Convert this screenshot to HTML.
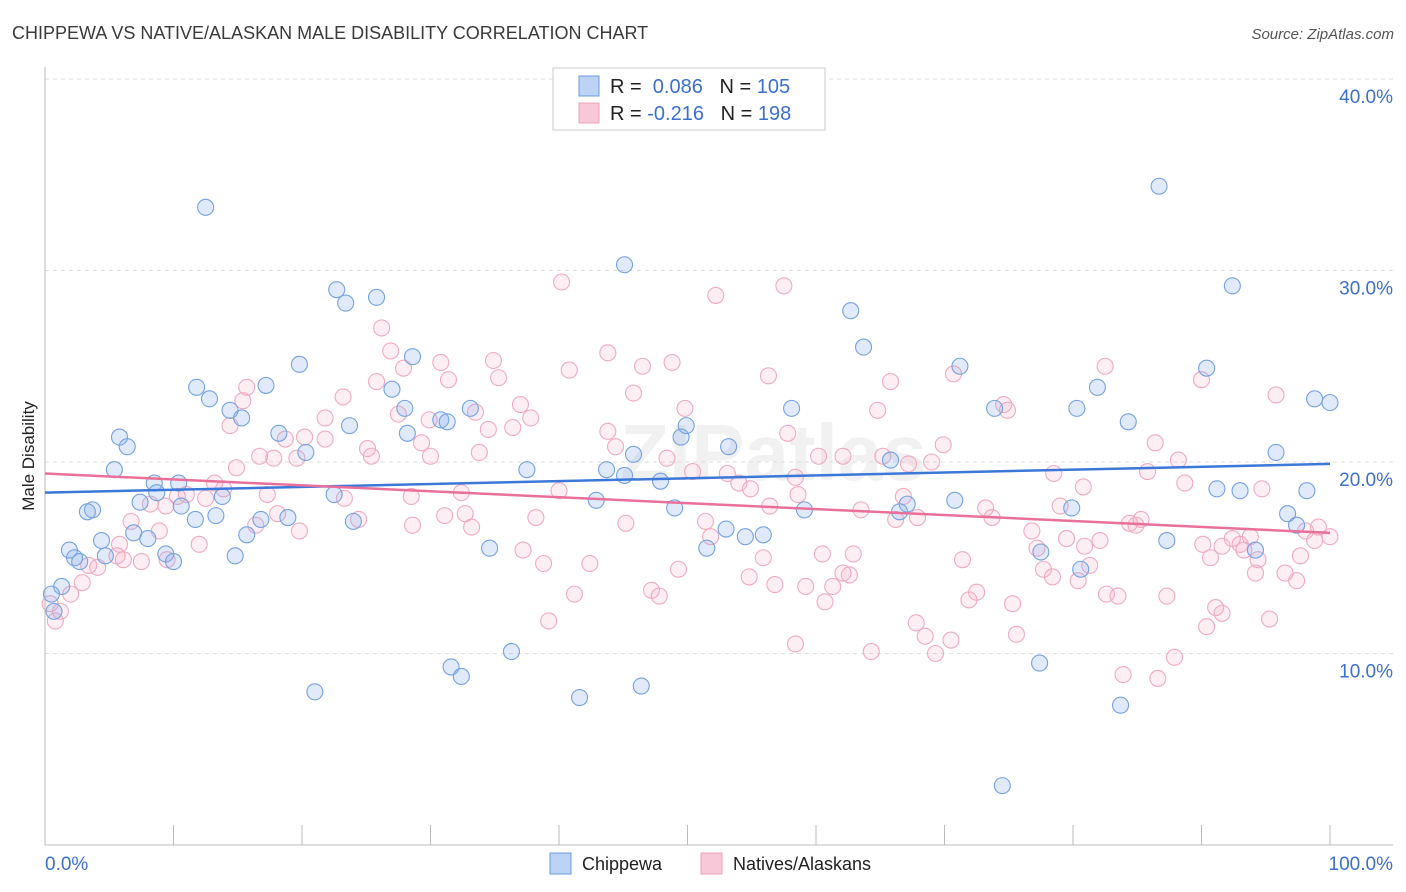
<!DOCTYPE html>
<html><head><meta charset="utf-8"><style>
body{margin:0;background:#fff;font-family:"Liberation Sans",sans-serif;}
svg{display:block}
</style></head><body>
<svg id="chart" width="1406" height="892">
<text x="12" y="39" font-size="18" fill="#3a3a3a">CHIPPEWA VS NATIVE/ALASKAN MALE DISABILITY CORRELATION CHART</text>
<text x="1394" y="39" font-size="15" fill="#555" font-style="italic" text-anchor="end">Source: ZipAtlas.com</text>
<text x="34" y="456" font-size="17" fill="#222" text-anchor="middle" transform="rotate(-90 34 456)">Male Disability</text>
<text x="620" y="480" font-size="80" fill="#000" opacity="0.05" font-weight="bold">ZIPatlas</text>
<g id="grid"></g><g id="axes"></g><g id="pts"></g><g id="trends"></g>
<g>
<rect x="553" y="68" width="272" height="62" fill="#fff" stroke="#ccc"/>
<rect x="579" y="76" width="20" height="20" fill="#bcd3f5" stroke="#6a9be0"/>
<text x="610" y="93" font-size="20" fill="#222">R = <tspan fill="#3b6fd0">&#160;0.086</tspan>&#160;&#160;&#160;N = <tspan fill="#3b6fd0">105</tspan></text>
<rect x="579" y="103" width="20" height="20" fill="#f8c8d8" stroke="#eea0b8"/>
<text x="610" y="120" font-size="20" fill="#222">R = <tspan fill="#3b6fd0">-0.216</tspan>&#160;&#160;&#160;N = <tspan fill="#3b6fd0">198</tspan></text>
</g>
<g>
<rect x="550" y="853" width="21" height="21" fill="#bcd3f5" stroke="#6a9be0"/>
<text x="582" y="870" font-size="18" fill="#222">Chippewa</text>
<rect x="701" y="853" width="21" height="21" fill="#f8c8d8" stroke="#eea0b8"/>
<text x="733" y="870" font-size="18" fill="#222">Natives/Alaskans</text>
</g>
</svg>
<script>
const yTicks=[10,20,30,40];
const yTickLabels=["10.0%","20.0%","30.0%","40.0%"];
const xEndLabels=["0.0%","100.0%"];
const blueX=[12.5,86.7,45.1,92.4,22.7,23.4,25.8,62.7,63.7,19.8,28.6,71.2,11.8,17.2,12.8,27.0,90.4,81.9,14.4,15.3,28.0,33.1,58.1,73.9,80.3,84.3,98.8,100,5.8,6.4,18.2,23.7,28.2,30.8,31.3,49.5,49.9,53.2,95.8,5.4,8.5,10.4,8.7,7.4,10.6,11.7,13.3,13.8,16.8,18.9,20.3,22.5,24.0,37.5,43.7,45.1,45.8,47.9,65.8,42.9,49.0,59.1,66.5,67.1,70.8,79.9,91.2,93.0,98.2,96.7,97.4,1.3,0.5,1.9,2.3,2.7,3.3,3.7,4.4,4.7,6.9,8.0,9.4,10.0,14.8,15.7,34.6,53.0,54.5,55.9,51.5,77.5,80.6,87.3,94.2,31.6,32.4,21.0,36.3,41.6,46.4,77.4,83.7,74.5,0.7];
const blueY=[33.3,34.4,30.3,29.2,29.0,28.3,28.6,27.9,26.0,25.1,25.5,25.0,23.9,24.0,23.3,23.8,24.9,23.9,22.7,22.3,22.8,22.8,22.8,22.8,22.8,22.1,23.3,23.1,21.3,20.8,21.5,21.9,21.5,22.2,22.1,21.3,21.9,20.8,20.5,19.6,18.9,18.9,18.4,17.9,17.7,17.0,17.2,18.2,17.0,17.1,20.5,18.3,16.9,19.6,19.6,19.3,20.4,19.0,20.1,18.0,17.6,17.5,17.4,17.8,18.0,17.6,18.6,18.5,18.5,17.3,16.7,13.5,13.1,15.4,15.0,14.8,17.4,17.5,15.9,15.1,16.3,16.0,15.2,14.8,15.1,16.2,15.5,16.5,16.1,16.2,15.5,15.3,14.4,15.9,15.4,9.3,8.8,8.0,10.1,7.7,8.3,9.5,7.3,3.1,12.2];
const pinkX=[40.2,52.2,57.5,26.2,26.9,43.8,27.9,30.8,31.4,34.9,35.3,40.8,46.5,48.8,56.3,65.8,70.7,82.5,90.0,95.8,15.7,15.4,14.4,25.8,23.2,27.5,29.9,33.5,34.5,36.4,37.0,37.8,45.8,49.8,64.8,74.6,74.9,21.8,20.2,21.8,18.7,16.7,17.8,19.6,25.4,25.1,29.3,30.0,33.8,43.8,44.4,48.4,50.4,57.8,60.2,62.1,65.2,67.2,69.0,69.9,78.5,80.8,85.8,86.4,88.2,88.7,94.7,98.1,100,14.9,13.2,13.9,12.5,11.0,10.3,8.2,9.4,6.7,8.9,12.0,5.8,5.6,4.1,3.4,2.9,2.0,1.2,0.8,0.4,6.1,7.5,9.5,17.3,18.1,16.4,19.8,23.3,24.4,28.5,28.6,31.1,32.4,32.7,33.2,38.2,40.0,45.2,51.4,51.8,54.0,53.1,54.9,56.4,58.6,58.4,63.5,66.2,66.8,67.9,73.2,73.7,76.8,77.2,77.7,79.0,79.5,80.9,81.3,82.1,84.4,84.9,85.3,90.1,90.7,91.6,92.4,93.0,93.3,93.8,94.4,97.4,97.7,98.8,99.1,37.2,38.8,42.4,49.3,54.8,55.9,56.8,59.2,60.5,61.3,62.6,62.9,62.1,71.4,72.5,71.9,75.3,78.4,80.4,82.6,83.5,87.3,91.1,91.6,90.4,95.3,94.2,96.5,41.2,47.2,47.8,39.2,60.7,67.8,68.5,70.5,69.3,75.6,58.4,64.3,83.9,86.6,87.9];
const pinkY=[29.4,28.7,29.2,27.0,25.8,25.7,24.9,25.2,24.3,25.3,24.4,24.8,25.0,25.2,24.5,24.2,24.6,25.0,24.3,23.5,23.9,23.2,21.9,24.2,23.4,22.5,22.2,22.6,21.7,21.8,23.0,22.3,23.6,22.8,22.7,23.0,22.7,22.3,21.3,21.2,21.2,20.3,20.2,20.2,20.3,20.7,21.0,20.3,20.5,21.6,20.8,20.2,19.5,21.5,20.3,20.3,20.3,19.9,20.0,20.9,19.4,18.7,19.5,21.0,20.1,18.9,18.6,16.4,16.1,19.7,18.9,18.6,18.1,18.3,18.2,17.8,17.7,16.9,16.4,15.7,15.7,15.1,14.5,14.6,13.7,13.1,12.2,11.7,12.6,14.9,14.8,14.9,18.3,17.3,16.7,16.4,18.1,17.0,18.2,16.7,17.2,18.4,17.3,16.6,17.1,18.5,16.8,16.9,16.1,18.9,19.4,18.6,17.7,18.3,19.2,17.5,17.0,18.2,17.1,17.6,17.1,16.4,15.5,14.4,17.7,16.0,15.6,14.6,15.9,16.8,16.7,17.0,15.7,15.0,15.6,16.0,15.7,15.4,16.1,14.9,13.8,15.1,15.9,16.6,15.4,14.7,14.7,14.4,14.0,15.0,13.6,13.5,15.2,13.5,14.1,15.2,14.2,14.9,13.2,12.8,12.6,14.0,13.8,13.1,13.0,13.0,12.4,12.1,11.4,11.8,14.2,14.2,13.1,13.3,13.0,11.7,12.7,11.6,10.9,10.7,10.0,11.0,10.5,10.1,8.9,8.7,9.8];
const blueTrend=[18.4,19.9];
const pinkTrend=[19.4,16.3];
const NS="http://www.w3.org/2000/svg";
const X0=45,X1=1330,Y40=79,PX10=191.5;
function sx(v){return X0+(X1-X0)*v/100;}
function sy(v){return Y40+(40-v)*PX10/10;}
function mk(tag,attrs,parent){const e=document.createElementNS(NS,tag);for(const k in attrs)e.setAttribute(k,attrs[k]);parent.appendChild(e);return e;}
const grid=document.getElementById('grid'),axes=document.getElementById('axes'),pts=document.getElementById('pts'),tr=document.getElementById('trends');
yTicks.forEach((t,i)=>{
 const l=mk('line',{x1:45,x2:1393,y1:sy(t),y2:sy(t),stroke:'#ddd','stroke-dasharray':'4 4'},grid);
 
 
 const tx=mk('text',{x:1393,y:sy(t)+24,'font-size':19,fill:'#3b6fd0','text-anchor':'end'},grid);
 tx.textContent=yTickLabels[i];
 
 
});
const la=mk('line',{x1:45,x2:45,y1:67,y2:845,stroke:'#bbb'},axes);


const ba=mk('line',{x1:45,x2:1393,y1:845,y2:845,stroke:'#bbb'},axes);


for(let i=1;i<=10;i++){
 const t=mk('line',{x1:sx(i*10),x2:sx(i*10),y1:825,y2:845,stroke:'#bbb'},axes);
 
 
}
const xl0=mk('text',{x:45,y:870,'font-size':19,fill:'#3b6fd0'},axes);xl0.textContent=xEndLabels[0];


const xl1=mk('text',{x:1393,y:870,'font-size':19,fill:'#3b6fd0','text-anchor':'end'},axes);xl1.textContent=xEndLabels[1];


pinkX.forEach((x,i)=>{
 const c=mk('circle',{cx:sx(x),cy:sy(pinkY[i]),r:8,fill:'rgba(245,170,195,0.2)',stroke:'#f0aac0','stroke-width':1.1},pts);
 
 
});
blueX.forEach((x,i)=>{
 const c=mk('circle',{cx:sx(x),cy:sy(blueY[i]),r:8,fill:'rgba(130,170,235,0.25)',stroke:'#74a2e2','stroke-width':1.1},pts);
 
 
});
const bl=mk('line',{x1:sx(0),x2:sx(100),y1:sy(blueTrend[0]),y2:sy(blueTrend[1]),stroke:'#3b78d8','stroke-width':2.5},tr);


const pl=mk('line',{x1:sx(0),x2:sx(100),y1:sy(pinkTrend[0]),y2:sy(pinkTrend[1]),stroke:'#e8709a','stroke-width':2.5},tr);


</script>
</body></html>
